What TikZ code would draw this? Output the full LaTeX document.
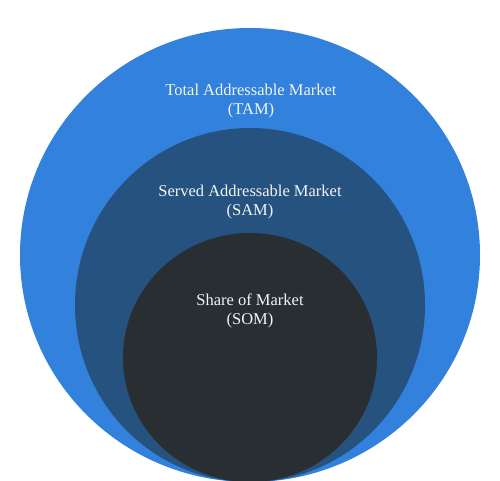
\documentclass[tikz,border=0pt]{standalone}
\usepackage{fontspec}
\setmainfont{Liberation Serif}
\definecolor{tamblue}{HTML}{3181DD}
\definecolor{samblue}{HTML}{26527F}
\definecolor{somdark}{HTML}{292E33}
\definecolor{labelwhite}{HTML}{F2F4F6}
\tikzset{
  lbl/.style={text=labelwhite, font=\fontsize{16.5}{19}\selectfont, align=center, inner sep=0pt}
}
\begin{document}
\begin{tikzpicture}[x=1pt,y=-1pt]
\useasboundingbox (0,0) rectangle (500,480);
\fill[white] (0,0) rectangle (500,480);
\begin{scope}
\clip (0,0) rectangle (500,480);
\fill[tamblue] (250,255) ellipse [x radius=230, y radius=227];
\fill[samblue] (250,305) ellipse [x radius=175, y radius=177];
\fill[somdark] (250,357.5) ellipse [x radius=127, y radius=124.5];
\end{scope}
\node[lbl] (tam) at (251,101) {Total Addressable Market\\(TAM)};
\node[lbl] (sam) at (250,202) {Served Addressable Market\\(SAM)};
\node[lbl] (som) at (250,310.5) {Share of Market\\(SOM)};
\end{tikzpicture}
\end{document}
